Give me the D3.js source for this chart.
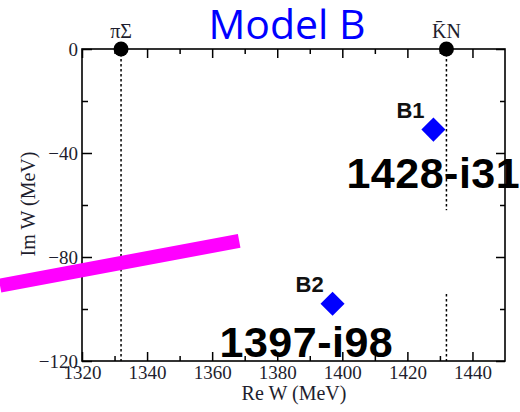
<!DOCTYPE html>
<html>
<head>
<meta charset="utf-8">
<script src="https://cdn.jsdelivr.net/npm/d3@7"></script>
<style>
  html, body { margin: 0; padding: 0; background: #fff; }
  svg { display: block; }
</style>
</head>
<body>
<svg id="chart" width="520" height="412"></svg>
<script>
// Pole positions (Re W, Im W) in MeV
const poleNames = ["B1", "B2"];
const poleRe = [1428, 1397];
const poleIm = [-31, -98];

// Two-body thresholds along the real axis
const thresholdNames = ["πΣ", "K\u0304N"];
const thresholdRe = [1332, 1432];

// Axis ticks
const xMajorTicks = [1320, 1340, 1360, 1380, 1400, 1420, 1440];
const xMinorTicks = [1330, 1350, 1370, 1390, 1410, 1430];
const yMajorTicks = [0, -40, -80, -120];
const yMinorTicks = [-20, -60, -100];

// Highlight stroke endpoints (Re W, Im W)
const strokeRe = [1294.8, 1368.3];
const strokeIm = [-91.0, -73.8];

const svg = d3.select("#chart");
const plot = { left: 82, right: 505, top: 49, bottom: 361 };

const x = d3.scaleLinear().domain([1320, 1450]).range([plot.left, plot.right]);
const y = d3.scaleLinear().domain([-120, 0]).range([plot.bottom, plot.top]);

const ink = "#1e1e2e";
const serif = "'Liberation Serif', 'Times New Roman', serif";
const sans = "'Liberation Sans', Arial, sans-serif";

// Title
svg.append("text")
  .attr("x", 287).attr("y", 39)
  .attr("text-anchor", "middle")
  .attr("font-family", "'Open Sans', sans-serif")
  .attr("font-size", 41)
  .attr("fill", "#0000ff")
  .text("Model B");

// Axes with inward-pointing ticks
function styleAxis(g) {
  g.select(".domain").remove();
  g.selectAll(".tick line").attr("stroke", "#000").attr("stroke-width", 1.5);
  g.selectAll("text").attr("font-family", serif).attr("font-size", 19).attr("fill", ink);
}

svg.append("g").attr("transform", `translate(0,${plot.bottom})`)
  .call(d3.axisBottom(x).tickValues(xMajorTicks).tickSize(-9).tickPadding(5).tickFormat(d3.format("d")))
  .call(styleAxis);
svg.append("g").attr("transform", `translate(0,${plot.bottom})`)
  .call(d3.axisBottom(x).tickValues(xMinorTicks).tickSize(-5).tickFormat(""))
  .call(styleAxis);
svg.append("g").attr("transform", `translate(0,${plot.top})`)
  .call(d3.axisTop(x).tickValues(xMajorTicks).tickSize(-9).tickFormat(""))
  .call(styleAxis);
svg.append("g").attr("transform", `translate(0,${plot.top})`)
  .call(d3.axisTop(x).tickValues(xMinorTicks).tickSize(-5).tickFormat(""))
  .call(styleAxis);
svg.append("g").attr("transform", `translate(${plot.left},0)`)
  .call(d3.axisLeft(y).tickValues(yMajorTicks).tickSize(-10).tickPadding(4).tickFormat(d3.format("d")))
  .call(styleAxis);
svg.append("g").attr("transform", `translate(${plot.left},0)`)
  .call(d3.axisLeft(y).tickValues(yMinorTicks).tickSize(-6).tickFormat(""))
  .call(styleAxis);
svg.append("g").attr("transform", `translate(${plot.right},0)`)
  .call(d3.axisRight(y).tickValues(yMajorTicks).tickSize(-9).tickFormat(""))
  .call(styleAxis);
svg.append("g").attr("transform", `translate(${plot.right},0)`)
  .call(d3.axisRight(y).tickValues(yMinorTicks).tickSize(-5).tickFormat(""))
  .call(styleAxis);

// Frame
svg.append("rect")
  .attr("x", plot.left).attr("y", plot.top)
  .attr("width", plot.right - plot.left).attr("height", plot.bottom - plot.top)
  .attr("fill", "none").attr("stroke", "#000").attr("stroke-width", 1.6);

// Axis titles
svg.append("text")
  .attr("x", 294).attr("y", 400)
  .attr("text-anchor", "middle")
  .attr("font-family", serif).attr("font-size", 20).attr("fill", ink)
  .text("Re W (MeV)");
svg.append("text")
  .attr("transform", "translate(35,204) rotate(-90)")
  .attr("text-anchor", "middle")
  .attr("font-family", serif).attr("font-size", 20).attr("fill", ink)
  .text("Im W (MeV)");

// Threshold lines, markers and labels
const thresholds = thresholdNames.map((name, i) => ({ name, re: thresholdRe[i] }));
svg.selectAll("line.threshold").data(thresholds).join("line")
  .attr("class", "threshold")
  .attr("x1", d => x(d.re)).attr("x2", d => x(d.re))
  .attr("y1", y(0)).attr("y2", y(-120))
  .attr("stroke", "#000").attr("stroke-width", 1.5)
  .attr("stroke-dasharray", "2.5,2.5");
svg.selectAll("circle.threshold").data(thresholds).join("circle")
  .attr("class", "threshold")
  .attr("cx", d => x(d.re)).attr("cy", y(0)).attr("r", 7.5)
  .attr("fill", "#000");
svg.selectAll("text.threshold").data(thresholds).join("text")
  .attr("class", "threshold")
  .attr("x", d => x(d.re)).attr("y", y(0) - 11)
  .attr("text-anchor", "middle")
  .attr("font-family", serif).attr("font-size", 20).attr("fill", ink)
  .text(d => d.name);

// Blank band across the K̄N line
svg.append("rect")
  .attr("x", x(1432) - 3).attr("y", y(-62))
  .attr("width", 6).attr("height", y(-94) - y(-62))
  .attr("fill", "#fff");

// Poles
const poles = poleNames.map((name, i) => ({ name, re: poleRe[i], im: poleIm[i] }));
const diamond = d3.symbol().type(d3.symbolSquare).size(290);
svg.selectAll("path.pole").data(poles).join("path")
  .attr("class", "pole")
  .attr("d", diamond)
  .attr("transform", d => `translate(${x(d.re)},${y(d.im)}) rotate(45)`)
  .attr("fill", "#0000ff");
svg.selectAll("text.poleName").data(poles).join("text")
  .attr("class", "poleName")
  .attr("x", d => x(d.re) - 37).attr("y", d => y(d.im) - 12)
  .attr("font-family", sans)
  .attr("font-weight", "bold").attr("font-size", 22).attr("fill", "#111")
  .text(d => d.name);

// Highlight stroke
svg.append("line")
  .attr("x1", x(strokeRe[0])).attr("y1", y(strokeIm[0]))
  .attr("x2", x(strokeRe[1])).attr("y2", y(strokeIm[1]))
  .attr("stroke", "#ff00ff").attr("stroke-width", 14);

// Pole value labels
const valueOffsets = [{ dx: -87, dy: 58 }, { dx: -113, dy: 53 }];
svg.selectAll("text.poleValue").data(poles).join("text")
  .attr("class", "poleValue")
  .attr("x", (d, i) => x(d.re) + valueOffsets[i].dx)
  .attr("y", (d, i) => y(d.im) + valueOffsets[i].dy)
  .attr("font-family", sans)
  .attr("font-weight", "bold").attr("font-size", 43)
  .attr("letter-spacing", 0.5).attr("fill", "#000")
  .text(d => `${d.re}-i${-d.im}`);
</script>
</body>
</html>
